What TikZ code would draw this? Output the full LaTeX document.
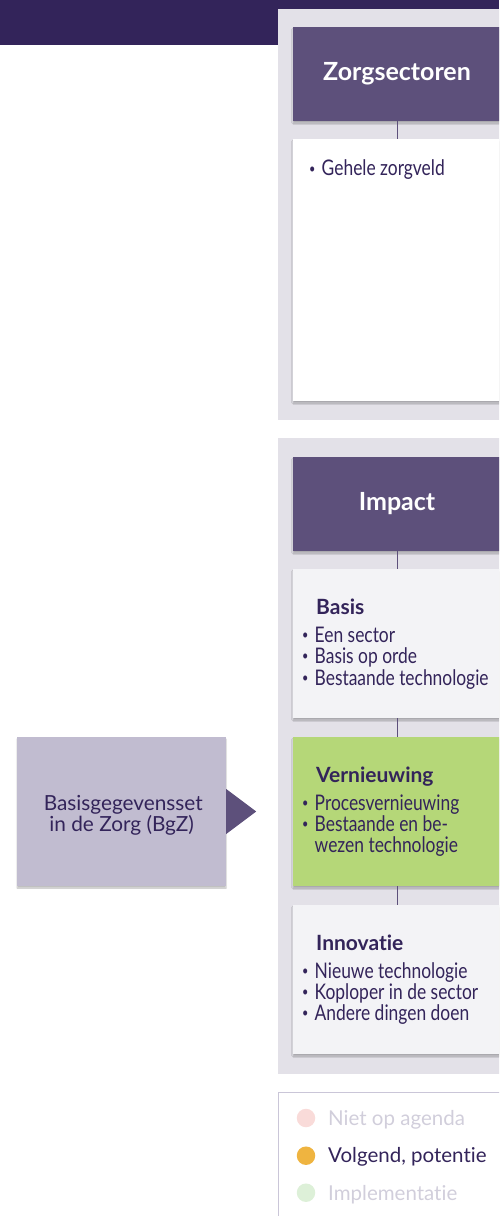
\documentclass[tikz,border=0pt]{standalone}
\usepackage{fontspec}
\setmainfont{Lato}[Ligatures=NoCommon]
\newfontfamily\condfont{Lato}[FakeStretch=0.81,Ligatures=NoCommon]
\usetikzlibrary{shadows.blur}
\definecolor{topbar}{HTML}{33245A}
\definecolor{headfill}{HTML}{5D507B}
\definecolor{panelgray}{HTML}{E3E1E8}
\definecolor{cardgray}{HTML}{F3F3F6}
\definecolor{cardgreen}{HTML}{B5D778}
\definecolor{leftfill}{HTML}{C1BCD0}
\definecolor{darktext}{HTML}{33245A}
\definecolor{fadetext}{HTML}{D1CEDB}
\definecolor{legborder}{HTML}{CAC6D8}
\definecolor{dotpink}{HTML}{F9DBD9}
\definecolor{dotorange}{HTML}{EFB440}
\definecolor{dotgreen}{HTML}{DDF0D8}
\tikzset{
  softshadow/.style={blur shadow={shadow xshift=0pt, shadow yshift=-2pt, shadow blur radius=1.2pt, shadow blur steps=4, shadow opacity=25}},
  header/.style={fill=headfill, text=white, minimum width=208pt, minimum height=94pt,
    inner sep=0pt, font=\bfseries\fontsize{25}{25}\selectfont, softshadow},
  card/.style={minimum width=208pt, minimum height=149pt, inner sep=0pt, softshadow},
  conn/.style={draw=headfill, line width=1pt},
  subtitle/.style={anchor=base west, inner sep=0pt, text=darktext, font=\bfseries\fontsize{21}{21}\selectfont},
  item/.style={anchor=base west, inner sep=0pt, text=darktext, font=\condfont\fontsize{21.5}{21.5}\selectfont},
  lefttext/.style={anchor=base, inner sep=0pt, text=darktext, font=\fontsize{20.8}{20.8}\selectfont},
  legtext/.style={anchor=base west, inner sep=0pt, font=\fontsize{20.5}{20.5}\selectfont},
  legdot/.style={circle, minimum size=18.5pt, inner sep=0pt},
}
\newcommand{\bul}{\makebox[12.5pt][l]{\raisebox{2.6pt}{\fontsize{13.5}{13.5}\selectfont\textbullet}}}
\begin{document}
\begin{tikzpicture}[x=1pt,y=-1pt]
\useasboundingbox (0,0) rectangle (499,1216);
\clip (0,0) rectangle (499,1216);
% top bar
\fill[topbar] (0,0) rectangle (499,45);
% panel 1
\fill[panelgray] (278,9) rectangle (530,420);
\node[header] (h1) at (397,74) {Zorgsectoren};
\node[card, fill=white, minimum height=262pt] (zc) at (397,270) {};
\draw[conn] (h1.south) -- (zc.north);
\node[item] (z1) at (309,175.7) {\bul Gehele zorgveld};
% panel 2
\fill[panelgray] (278,438) rectangle (530,1074);
\node[header] (h2) at (397,504) {Impact};
\node[card, fill=cardgray] (basis) at (397,643.5) {};
\node[card, fill=cardgreen] (vern) at (397,811.5) {};
\node[card, fill=cardgray] (innov) at (397,979.5) {};
\draw[conn] (h2.south) -- (basis.north);
\draw[conn] (basis.south) -- (vern.north);
\draw[conn] (vern.south) -- (innov.north);
% basis text
\node[subtitle] (bt) at (316,614.3) {Basis};
\node[item] (b1) at (302,642) {\bul Een sector};
\node[item] (b2) at (302,663.3) {\bul Basis op orde};
\node[item] (b3) at (302,685) {\bul Bestaande technologie};
% vernieuwing text
\node[subtitle] (vt) at (316,782.7) {Vernieuwing};
\node[item] (v1) at (302,810) {\bul Procesvernieuwing};
\node[item] (v2) at (302,831) {\bul Bestaande en be-};
\node[item] (v3) at (314.5,852) {wezen technologie};
% innovatie text
\node[subtitle] (it) at (316,950) {Innovatie};
\node[item] (i1) at (302,978) {\bul Nieuwe technologie};
\node[item] (i2) at (302,999) {\bul Koploper in de sector};
\node[item] (i3) at (302,1020) {\bul Andere dingen doen};
% left box
\node[card, fill=leftfill, minimum width=209pt] (bgz) at (121.5,811.5) {};
\node[lefttext] (bgz1) at (123.3,810) {Basisgegevensset};
\node[lefttext] (bgz2) at (121.7,831) {in de Zorg (BgZ)};
\fill[headfill] ([yshift=22.5pt]bgz.east) -- ([xshift=30pt]bgz.east) -- ([yshift=-22.5pt]bgz.east) -- cycle;
% legend
\draw[legborder, line width=1pt] (278.5,1230) -- (278.5,1092.5) -- (530,1092.5);
\node[legdot, fill=dotpink] (d1) at (306,1118) {};
\node[legtext, text=fadetext] (l1) at (328,1125) {Niet op agenda};
\node[legdot, fill=dotorange] (d2) at (306,1155.7) {};
\node[legtext, text=darktext] (l2) at (328,1162) {Volgend, potentie};
\node[legdot, fill=dotgreen] (d3) at (306,1192.7) {};
\node[legtext, text=fadetext] (l3) at (328,1200) {Implementatie};
\end{tikzpicture}
\end{document}
